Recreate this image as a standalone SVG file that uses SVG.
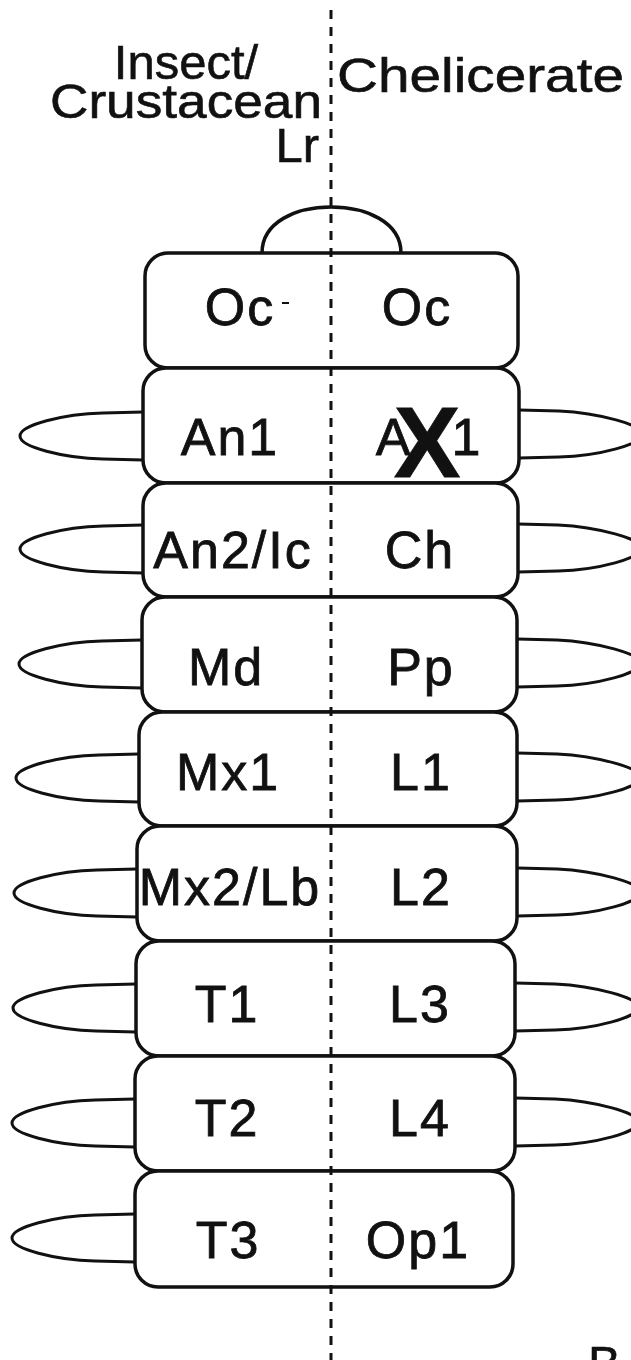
<svg xmlns="http://www.w3.org/2000/svg" width="631" height="1360" viewBox="0 0 631 1360">
  <style>
    .seg { fill: #fff; stroke: #111; stroke-width: 3.5; }
    .leg { fill: #fff; stroke: #111; stroke-width: 3; }
    .lbl { font-family: "Liberation Sans", Arial, sans-serif; font-size: 52px; letter-spacing: 2px; fill: #111; stroke: #111; stroke-width: 0.8; text-anchor: middle; }
    .hdr { font-family: "Liberation Sans", Arial, sans-serif; font-size: 49px; fill: #111; stroke: #111; stroke-width: 0.6; }
    .axis { stroke: #111; stroke-width: 3; stroke-dasharray: 9 8; fill: none; }
  </style>
  <defs>
    <!-- appendage outlines, attached at the origin (segment wall) -->
    <path id="legL" class="leg" d="M0,-24 L-40,-23 C-80,-22 -123,-11 -123,0 C-123,11 -80,22 -40,23 L0,24"/>
    <path id="legR" class="leg" d="M0,-25 L40,-24 C80,-22 124,-10 124,-1 C124,9 80,21 40,22 L0,23"/>
  </defs>
  <rect width="631" height="1360" fill="#fff"/>

  <!-- headers -->
  <g id="headers">
    <text class="hdr" x="186" y="79" text-anchor="middle">Insect/</text>
    <text class="hdr" x="50" y="118" textLength="272" lengthAdjust="spacingAndGlyphs">Crustacean</text>
    <text class="hdr" x="337" y="92" textLength="287" lengthAdjust="spacingAndGlyphs">Chelicerate</text>
    <text class="hdr" x="319" y="162" text-anchor="end">Lr</text>
  </g>

  <!-- appendages -->
  <g id="legs">
    <use href="#legL" x="143" y="436"/>
    <use href="#legL" x="143" y="549"/>
    <use href="#legL" x="142" y="664"/>
    <use href="#legL" x="139" y="778"/>
    <use href="#legL" x="137" y="893"/>
    <use href="#legL" x="136" y="1008"/>
    <use href="#legL" x="135" y="1123"/>
    <use href="#legL" x="135" y="1238"/>
    <use href="#legR" x="519" y="435"/>
    <use href="#legR" x="518" y="549"/>
    <use href="#legR" x="517" y="664"/>
    <use href="#legR" x="517" y="778"/>
    <use href="#legR" x="517" y="893"/>
    <use href="#legR" x="515" y="1008"/>
    <use href="#legR" x="515" y="1123"/>
  </g>

  <!-- labrum -->
  <g id="labrum">
    <path class="seg" d="M262,253 C262,222 296,207 331,207 C366,207 401,222 401,253"/>
  </g>

  <!-- body segments -->
  <g id="seg-oc">
    <rect class="seg" x="145" y="253" width="373" height="115" rx="23"/>
    <text class="lbl" x="240" y="325">Oc</text>
    <line x1="282" y1="303" x2="289" y2="303" stroke="#111" stroke-width="2"/>
    <text class="lbl" x="417" y="325">Oc</text>
  </g>
  <g id="seg-an1">
    <rect class="seg" x="143" y="368" width="376" height="115" rx="23"/>
    <text class="lbl" x="230" y="455">An1</text>
    <text class="lbl" x="394" y="455">A</text>
    <text class="lbl" x="467" y="455">1</text>
    <text class="lbl" x="427" y="477" style="font-size:100px;font-weight:bold;letter-spacing:0">X</text>
  </g>
  <g id="seg-an2">
    <rect class="seg" x="143" y="483" width="375" height="114" rx="23"/>
    <text class="lbl" x="233" y="568">An2/Ic</text>
    <text class="lbl" x="420" y="568">Ch</text>
  </g>
  <g id="seg-md">
    <rect class="seg" x="142" y="597" width="375" height="115" rx="23"/>
    <text class="lbl" x="226" y="685">Md</text>
    <text class="lbl" x="421" y="685">Pp</text>
  </g>
  <g id="seg-mx1">
    <rect class="seg" x="139" y="712" width="378" height="114" rx="23"/>
    <text class="lbl" x="228" y="790">Mx1</text>
    <text class="lbl" x="421" y="790">L1</text>
  </g>
  <g id="seg-mx2">
    <rect class="seg" x="137" y="826" width="380" height="115" rx="23"/>
    <text class="lbl" x="230" y="905">Mx2/Lb</text>
    <text class="lbl" x="421" y="905">L2</text>
  </g>
  <g id="seg-t1">
    <rect class="seg" x="136" y="941" width="379" height="115" rx="23"/>
    <text class="lbl" x="227" y="1022">T1</text>
    <text class="lbl" x="420" y="1022">L3</text>
  </g>
  <g id="seg-t2">
    <rect class="seg" x="135" y="1056" width="380" height="115" rx="23"/>
    <text class="lbl" x="227" y="1136">T2</text>
    <text class="lbl" x="420" y="1136">L4</text>
  </g>
  <g id="seg-t3">
    <rect class="seg" x="135" y="1171" width="378" height="116" rx="23"/>
    <text class="lbl" x="228" y="1258">T3</text>
    <text class="lbl" x="418" y="1258">Op1</text>
  </g>

  <!-- midline separating the two groups -->
  <g id="connectors">
    <line class="axis" x1="331" y1="10" x2="331" y2="1360"/>
  </g>

  <text class="hdr" x="588" y="1380">B</text>
</svg>
